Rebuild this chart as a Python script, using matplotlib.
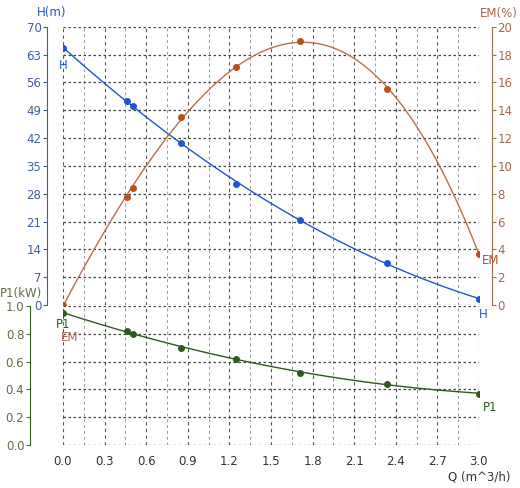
import numpy as np
import matplotlib
matplotlib.use("Agg")
import matplotlib.pyplot as plt
from matplotlib.ticker import MultipleLocator

plt.rcParams['font.family'] = ['DejaVu Sans']

# data
q_pts = [0.0, 0.46, 0.505, 0.85, 1.25, 1.71, 2.34, 3.0]
h_pts = [64.7, 51.4, 50.1, 40.8, 30.5, 21.4, 10.6, 1.5]
em_q = [0.0, 0.46, 0.505, 0.85, 1.25, 1.71, 2.34, 3.0]
em_pts = [0.0, 7.8, 8.4, 13.5, 17.1, 19.0, 15.5, 3.7]
p1_pts = [0.95, 0.82, 0.80, 0.70, 0.62, 0.52, 0.44, 0.37]

x_ticks = [0.0, 0.3, 0.6, 0.9, 1.2, 1.5, 1.8, 2.1, 2.4, 2.7, 3.0]

c_h = '#1f56d0'
c_em = '#b8501c'
c_em_line = '#b87048'
c_p1 = '#2e5a1e'
c_h_lab = '#3e5fa0'
c_em_lab = '#a8684c'
c_p1_lab = '#5f7045'
fs = 8.5

fig = plt.figure(figsize=(5.2, 4.88), dpi=100)
ax = fig.add_axes([0.121, 0.375, 0.80, 0.570])
ax2 = ax.twinx()
axp = fig.add_axes([0.121, 0.0881, 0.80, 0.285])

qq = np.linspace(0, 3, 200)

def grid(a):
    a.xaxis.set_minor_locator(MultipleLocator(0.15))
    a.grid(which='major', axis='x', color='#555555', ls=(0, (3, 3)), lw=0.8)
    a.grid(which='minor', axis='x', color='#999999', ls=(0, (3, 3)), lw=0.7)
    a.grid(which='major', axis='y', color='#444444', ls=(0, (2, 2)), lw=0.9)
    a.tick_params(axis='x', which='both', length=0)

# top panel: H and EM
ax.set_xlim(0, 3)
ax.set_ylim(0, 70)
ax.set_yticks(np.arange(0, 71, 7))
ax.set_xticks(x_ticks)
ax.set_xticklabels([])
grid(ax)
for s in ['top', 'bottom', 'right']:
    ax.spines[s].set_visible(False)
ax.spines['left'].set_position(('outward', 11.5))
ax.spines['left'].set_color(c_h_lab)
ax.tick_params(axis='y', colors=c_h_lab, labelsize=fs, length=3, pad=1)

hc = np.polyfit(q_pts, h_pts, 2)
ax.plot(qq, np.polyval(hc, qq), color=c_h, lw=1)
ax.plot(q_pts, h_pts, 'o', color=c_h, ms=4)
ax.text(0.0, 62, 'H', color=c_h, fontsize=fs, ha='center', va='top')
ax.text(3.0, -0.8, 'H', color=c_h, fontsize=fs, ha='left', va='top')
ax.text(-0.19, 72, 'H(m)', color=c_h, fontsize=fs, ha='left', va='bottom')

ax2.set_ylim(0, 20)
ax2.set_yticks(np.arange(0, 21, 2))
for s in ['top', 'bottom', 'left']:
    ax2.spines[s].set_visible(False)
ax2.spines['right'].set_position(('outward', 9.4))
ax2.spines['right'].set_color(c_em_lab)
ax2.tick_params(axis='y', colors=c_em_lab, labelsize=fs, length=3, pad=1)
ec = np.polyfit(em_q, em_pts, 3)
ax2.plot(qq, np.polyval(ec, qq), color=c_em_line, lw=1)
ax2.plot(em_q, em_pts, 'o', color=c_em, ms=4)
ax2.text(3.02, 3.2, 'EM', color=c_em, fontsize=fs, ha='left', va='center')
ax2.text(3.14, 20.5, 'EM(%)', color=c_em_lab, fontsize=fs, ha='center', va='bottom')

# bottom panel: P1
axp.set_xlim(0, 3)
axp.set_ylim(0, 1.0)
axp.set_yticks(np.arange(0, 1.01, 0.2))
axp.set_yticklabels(['%.1f' % v for v in np.arange(0, 1.01, 0.2)])
axp.set_xticks(x_ticks)
axp.set_xticklabels(['%.1f' % v for v in x_ticks])
grid(axp)
axp.tick_params(axis='x', labelsize=fs, colors='#333333', pad=7)
for s in ['top', 'bottom', 'right']:
    axp.spines[s].set_visible(False)
axp.spines['left'].set_position(('outward', 23.8))
axp.spines['left'].set_color(c_p1)
axp.tick_params(axis='y', colors=c_p1_lab, labelsize=fs, length=3, pad=1)
pc = np.polyfit(q_pts, p1_pts, 2)
axp.plot(qq, np.polyval(pc, qq), color=c_p1, lw=1)
axp.plot(q_pts, p1_pts, 'o', color=c_p1, ms=4)
axp.text(0.0, 0.91, 'P1', color=c_p1, fontsize=fs, ha='center', va='top')
axp.text(0.05, 0.82, 'EM', color=c_em_lab, fontsize=fs, ha='center', va='top')
axp.text(3.03, 0.27, 'P1', color=c_p1, fontsize=fs, ha='left', va='center')
axp.text(-0.30, 1.04, 'P1(kW)', color=c_p1_lab, fontsize=fs, ha='center', va='bottom')
axp.text(3.0, -0.18, 'Q (m^3/h)', color='#333333', fontsize=fs, ha='center', va='top')

fig.savefig('out.png', dpi=100)
